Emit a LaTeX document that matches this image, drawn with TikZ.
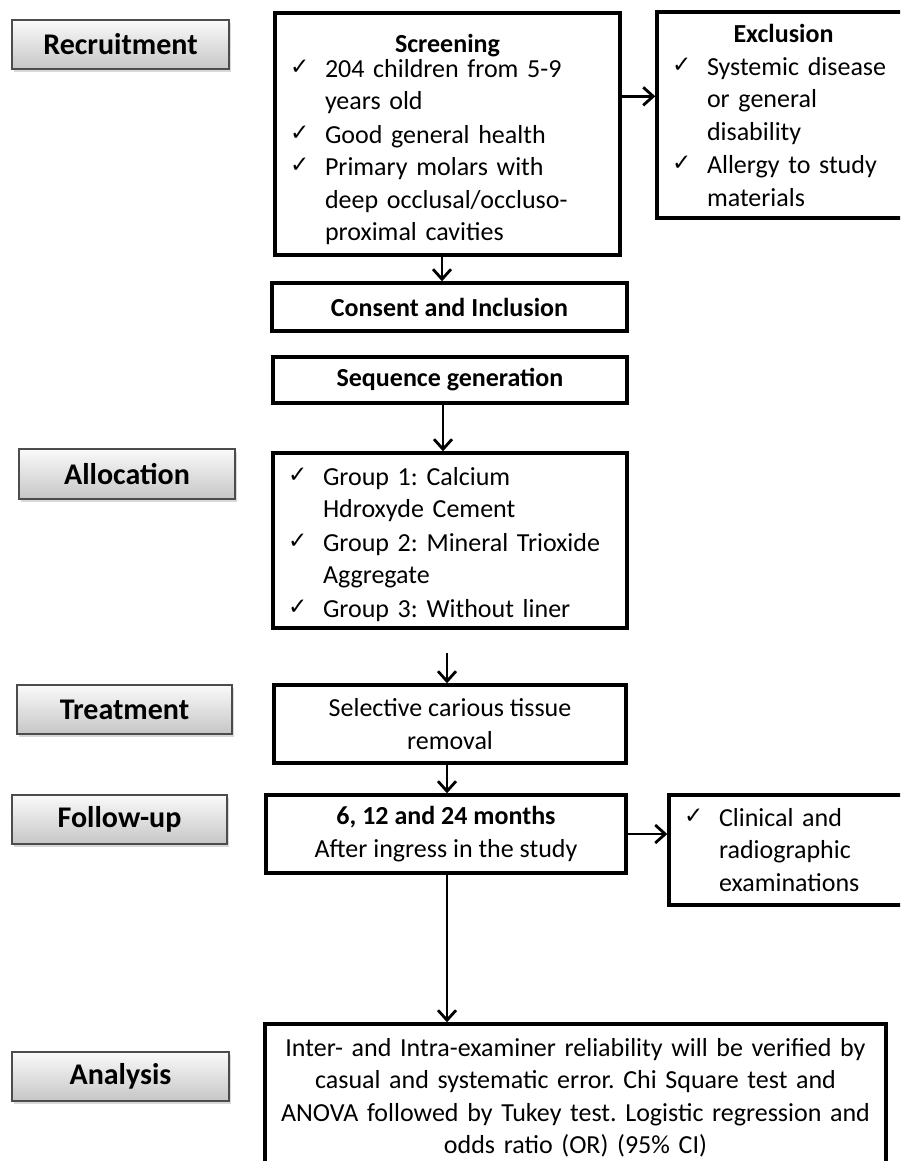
\documentclass[tikz,border=0pt]{standalone}
\usepackage{fontspec}
\setmainfont{Carlito}
\newfontfamily\symf{DejaVu Sans}
\usetikzlibrary{arrows.meta,shadows,calc}
\setlength{\parindent}{0pt}
\frenchspacing
\newcommand{\ck}{\makebox[35pt][l]{\raisebox{3pt}{\symf\fontsize{23}{23}\selectfont ✓}}}
\newcommand{\citem}[1]{\ck\begin{tabular}[t]{@{}l@{}}#1\end{tabular}}
\newcommand{\boxfont}{\fontsize{26}{32.5}\selectfont}
\tikzset{
  box/.style={draw=black, line width=3.4pt, rectangle, inner sep=0pt, fill=white},
  listbox/.style={box, align=left, inner xsep=15pt, inner ysep=0pt},
  lab/.style={draw=black!70, line width=1.8pt, top color=gray!4, bottom color=gray!45,
    font=\fontsize{30}{36}\selectfont\bfseries, inner sep=0pt,
    drop shadow={shadow xshift=2pt, shadow yshift=-3pt, fill=black!30}},
  arr/.style={line width=2.8pt, -{Straight Barb[length=10pt,width=18pt,line width=2.8pt]}}
}
\begin{document}
\begin{tikzpicture}[x=1pt, y=-1pt, font=\boxfont]
\useasboundingbox (0,0) rectangle (900,1161);
\clip (0,0) rectangle (900,1161);
\fill[white] (0,0) rectangle (900,1161);

% stage labels
\node[lab, minimum width=217pt, minimum height=49pt] (l1) at (120.5,44.5) {Recruitment};
\node[lab, minimum width=216pt, minimum height=50pt] (l2) at (127,474) {Allocation};
\node[lab, minimum width=215pt, minimum height=49pt] (l3) at (124.5,709.5) {Treatment};
\node[lab, minimum width=215pt, minimum height=49pt] (l4) at (119.5,819.5) {Follow-up};
\node[lab, minimum width=217pt, minimum height=49pt] (l5) at (120.5,1076.5) {Analysis};

% boxes (text height = first baseline below top, text depth = bottom below first baseline)
\node[listbox, text width=315pt, text height=32pt, text depth=210pt] (scr) at (447.5,134)
 {\makebox[315pt]{\raisebox{-8pt}[0pt][0pt]{\bfseries Screening}}\\
  \citem{204 children from 5-9\\years old}\\
  \citem{Good general health}\\
  \citem{Primary molars with\\deep occlusal/occluso-\\proximal cavities}};
\node[listbox, text width=263pt, text height=31pt, text depth=175pt] (exc) at (803.5,115)
 {\makebox[223pt]{\bfseries Exclusion}\\
  \citem{Systemic disease\\or general\\disability}\\
  \citem{Allergy to study\\materials}};
\node[box, minimum width=355pt, minimum height=48pt] (con) at (449.5,307) {\textbf{Consent and Inclusion}};
\node[box, minimum width=354pt, minimum height=46pt] (seq) at (450,380) {\textbf{Sequence generation}};
\node[listbox, text width=324pt, text height=32pt, text depth=143pt] (grp) at (450,540.5)
 {\citem{Group 1: Calcium\\Hdroxyde Cement}\\
  \citem{Group 2: Mineral Trioxide\\Aggregate}\\
  \citem{Group 3: Without liner}};
\node[box, minimum width=352pt, minimum height=78pt, align=center] (trt) at (450,724)
 {Selective carious tissue\\removal};
\node[box, minimum width=360pt, minimum height=78pt, align=center] (fu) at (446,834)
 {\textbf{6, 12 and 24 months}\\After ingress in the study};
\node[listbox, text width=251pt, text height=31pt, text depth=79pt] (cli) at (809.5,850)
 {\citem{Clinical and\\radiographic\\examinations}};
\node[box, inner xsep=15pt, text width=591pt, text height=32pt, text depth=129pt, align=center] (ana) at (575.5,1104.5)
 {Inter- and Intra-examiner reliability will be verified by\\
  casual and systematic error. Chi Square test and\\
  ANOVA followed by Tukey test. Logistic regression and\\
  odds ratio (OR) (95\% CI)};

% connectors
\coordinate (a1) at ([yshift=-85pt]scr.north east);
\draw[arr] (a1) -- (a1 -| exc.west);
\coordinate (a2) at ([xshift=-5.5pt]scr.south);
\draw[arr] (a2) -- (a2 |- con.north);
\coordinate (a3) at ([xshift=-7pt]seq.south);
\draw[arr] (a3) -- (a3 |- grp.north);
\coordinate (a4) at (447,653);
\draw[arr] (a4) -- (a4 |- trt.north);
\coordinate (a5) at ([xshift=-3pt]trt.south);
\draw[arr] (a5) -- (a5 |- fu.north);
\draw[arr] (fu.east) -- (fu.east -| cli.west);
\coordinate (a6) at ([xshift=1pt]fu.south);
\draw[arr] (a6) -- (a6 |- ana.north);
\end{tikzpicture}
\end{document}
